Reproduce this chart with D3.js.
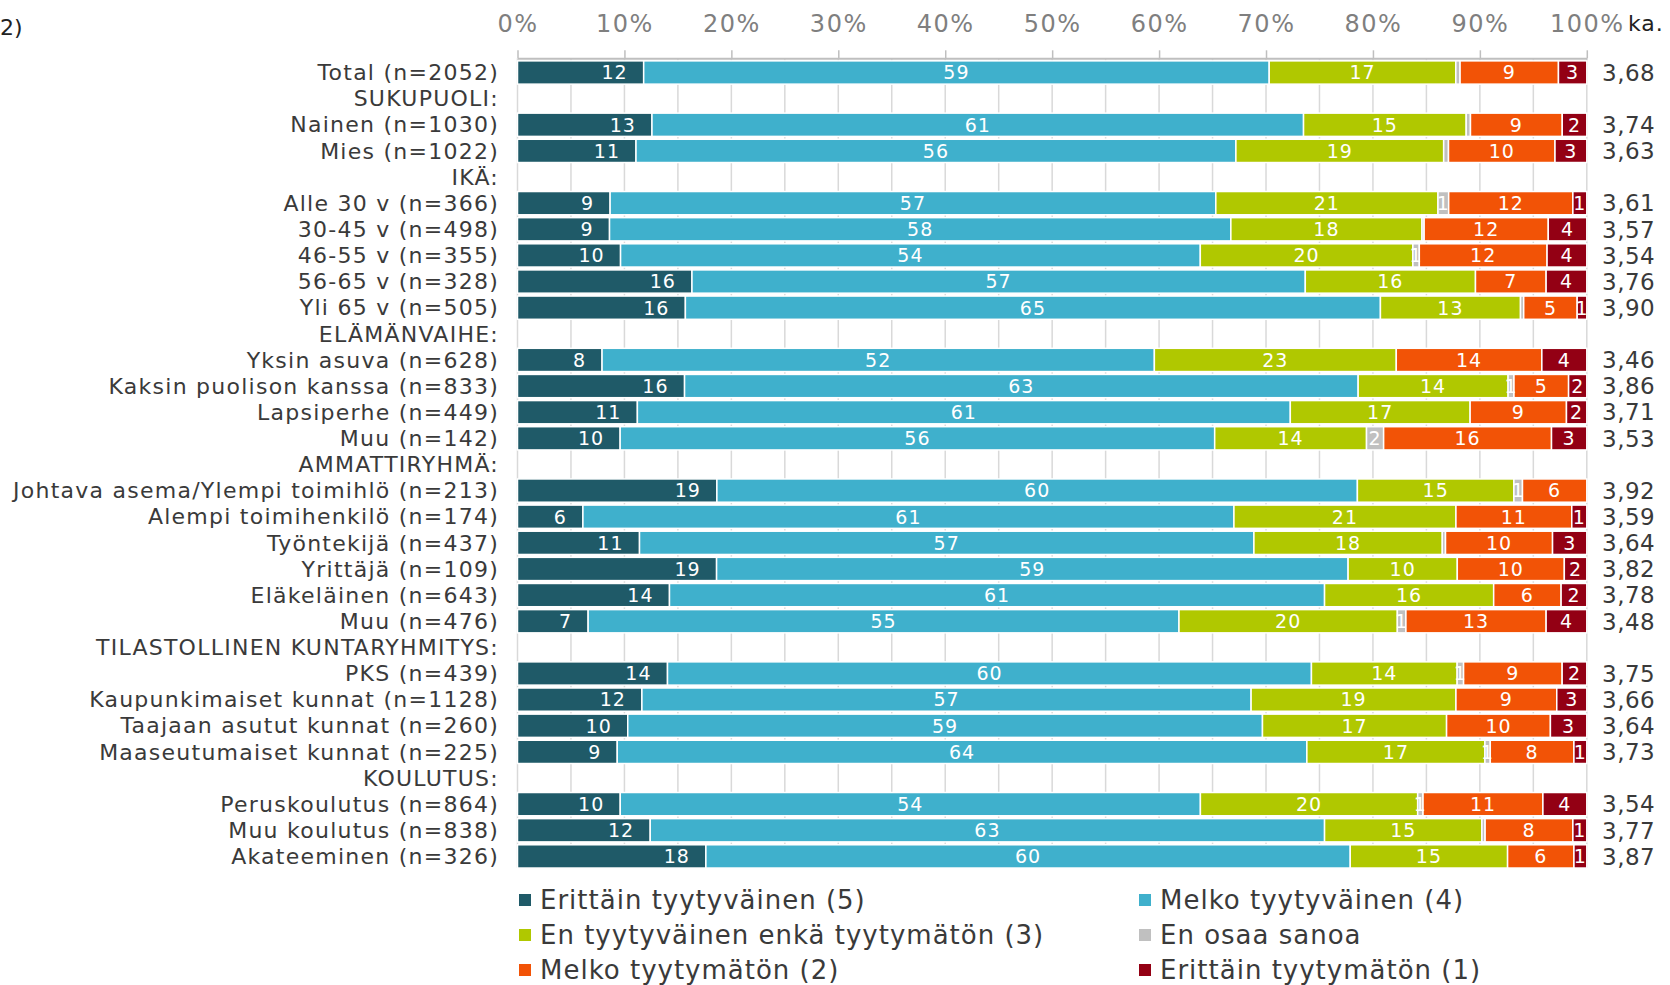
<!DOCTYPE html>
<html>
<head>
<meta charset="utf-8">
<script src="https://cdn.jsdelivr.net/npm/d3@7"></script>
<style>
    body { margin: 0; background: #fff; }
    svg text { font-family: 'DejaVu Sans', Verdana, sans-serif; }
</style>
</head>
<body>
<svg id="chart" width="1670" height="985"></svg>
<script>
const CATEGORIES = [
    "Total (n=2052)", "SUKUPUOLI:", "Nainen (n=1030)", "Mies (n=1022)",
    "IKÄ:", "Alle 30 v (n=366)", "30-45 v (n=498)", "46-55 v (n=355)", "56-65 v (n=328)", "Yli 65 v (n=505)",
    "ELÄMÄNVAIHE:", "Yksin asuva (n=628)", "Kaksin puolison kanssa (n=833)", "Lapsiperhe (n=449)", "Muu (n=142)",
    "AMMATTIRYHMÄ:", "Johtava asema/Ylempi toimihlö (n=213)", "Alempi toimihenkilö (n=174)", "Työntekijä (n=437)",
    "Yrittäjä (n=109)", "Eläkeläinen (n=643)", "Muu (n=476)",
    "TILASTOLLINEN KUNTARYHMITYS:", "PKS (n=439)", "Kaupunkimaiset kunnat (n=1128)", "Taajaan asutut kunnat (n=260)",
    "Maaseutumaiset kunnat (n=225)",
    "KOULUTUS:", "Peruskoulutus (n=864)", "Muu koulutus (n=838)", "Akateeminen (n=326)"
];

// null = group header row
const VERY_SATISFIED = [11.8, null, 12.6, 11.07, null, 8.65, 8.6, 9.6, 16.3, 15.7, null, 7.9, 15.6, 11.2, 9.6,
    null, 18.6, 6.1, 11.4, 18.6, 14.2, 6.6, null, 14.0, 11.6, 10.3, 9.3, null, 9.6, 12.4, 17.6];
const FAIRLY_SATISFIED = [58.5, null, 61.05, 56.04, null, 56.57, 58.06, 54.0, 57.3, 65.0, null, 51.6, 62.9, 61.0, 55.6,
    null, 59.75, 60.7, 57.4, 59.0, 61.2, 55.2, null, 60.1, 56.8, 59.3, 64.3, null, 54.2, 63.0, 60.2];
const NEUTRAL = [17.45, null, 15.24, 19.41, null, 20.75, 17.86, 19.8, 15.9, 13.1, null, 22.6, 14.0, 16.8, 14.2,
    null, 14.6, 20.7, 17.6, 10.2, 15.8, 20.4, null, 13.6, 19.1, 17.2, 16.6, null, 20.3, 14.7, 14.7];
const DONT_KNOW = [0.4, null, 0.4, 0.45, null, 1.0, 0.2, 0.6, 0, 0.3, null, 0, 0.55, 0, 1.6,
    null, 0.8, 0, 0.3, 0, 0, 0.8, null, 0.6, 0, 0, 0.5, null, 0.5, 0.3, 0];
const FAIRLY_DISSATISFIED = [9.2, null, 8.6, 9.95, null, 11.6, 11.6, 11.9, 6.6, 5.0, null, 13.6, 5.1, 9.0, 15.7,
    null, 6.0, 10.8, 10.0, 10.0, 6.3, 13.1, null, 9.2, 9.4, 9.7, 7.8, null, 11.2, 8.2, 6.2];
const VERY_DISSATISFIED = [2.65, null, 2.3, 2.97, null, 1.3, 3.6, 3.7, 3.8, 0.9, null, 4.2, 1.7, 1.9, 3.3,
    null, 0, 1.4, 3.2, 2.1, 2.4, 3.8, null, 2.3, 2.8, 3.4, 1.2, null, 4.1, 1.3, 1.2];
const MEANS = [3.68, null, 3.74, 3.63, null, 3.61, 3.57, 3.54, 3.76, 3.90, null, 3.46, 3.86, 3.71, 3.53,
    null, 3.92, 3.59, 3.64, 3.82, 3.78, 3.48, null, 3.75, 3.66, 3.64, 3.73, null, 3.54, 3.77, 3.87];

const SERIES_NAMES = [
    "Erittäin tyytyväinen (5)", "Melko tyytyväinen (4)", "En tyytyväinen enkä tyytymätön (3)",
    "En osaa sanoa", "Melko tyytymätön (2)", "Erittäin tyytymätön (1)"
];
const SERIES_COLORS = ["#1f5a68", "#3fb0cc", "#b0c800", "#c0c0c0", "#f25306", "#930014"];
const X_TICKS = [0, 10, 20, 30, 40, 50, 60, 70, 80, 90, 100];
const GRID_TICKS = d3.range(0, 101, 5);

const svg = d3.select('#chart');

const X_LEFT = 517.5;
const X_RIGHT = 1586.8;
const AXIS_Y = 58.3;
const LABEL_X = 499;
const MEAN_X = 1602;
const TEXT_COLOR = '#3a3a3a';

const SERIES = [VERY_SATISFIED, FAIRLY_SATISFIED, NEUTRAL, DONT_KNOW, FAIRLY_DISSATISFIED, VERY_DISSATISFIED];
const KEYS = SERIES.map((s, k) => 's' + k);

const rows = CATEGORIES.map((name, i) => {
    const row = {name: name, idx: i, header: VERY_SATISFIED[i] === null, mean: MEANS[i]};
    SERIES.forEach((s, k) => { row[KEYS[k]] = s[i] === null ? 0 : s[i]; });
    return row;
});
const dataRows = rows.filter(r => !r.header);

const x = d3.scaleLinear().domain([0, 1]).range([X_LEFT, X_RIGHT]);
const y = d3.scaleBand().domain(rows.map(r => r.idx)).range([58.0, 870.9]).padding(0.11);

const stacked = d3.stack().keys(KEYS).offset(d3.stackOffsetExpand)(dataRows);

drawGrid();
drawAxis();
drawBars();
drawCategoryLabels();
drawMeans();
drawLegend();

function drawGrid() {
    svg.append('g')
        .selectAll('line')
        .data(GRID_TICKS)
        .join('line')
        .attr('x1', d => x(d / 100))
        .attr('x2', d => x(d / 100))
        .attr('y1', AXIS_Y)
        .attr('y2', y(rows.length - 1) + y.bandwidth())
        .attr('stroke', '#d9d9d9')
        .attr('stroke-width', 1.5);
}

function drawAxis() {
    const axis = d3.axisTop(x)
        .tickValues(X_TICKS.map(d => d / 100))
        .tickFormat(d => Math.round(d * 100) + '%')
        .tickSize(8)
        .tickSizeOuter(0)
        .tickPadding(18);

    const g = svg.append('g')
        .attr('transform', 'translate(0,' + AXIS_Y + ')')
        .call(axis);

    g.select('.domain').attr('stroke', '#bfbfbf').attr('stroke-width', 2);
    g.selectAll('.tick line').attr('stroke', '#bfbfbf').attr('stroke-width', 1.5);
    g.selectAll('.tick text')
        .attr('fill', '#7f7f7f')
        .attr('font-size', 24)
        .attr('letter-spacing', '1.5px')
        .style('font-family', "'DejaVu Sans', Verdana, sans-serif");

    svg.append('text')
        .text('ka.')
        .attr('x', 1628)
        .attr('y', 31)
        .attr('font-size', 22)
        .attr('letter-spacing', '1px')
        .attr('fill', '#222');

    svg.append('text')
        .text('2)')
        .attr('x', 0)
        .attr('y', 35)
        .attr('font-size', 22)
        .attr('fill', '#222');
}

function drawBars() {
    const layers = svg.append('g')
        .selectAll('g')
        .data(stacked)
        .join('g')
        .attr('fill', (d, k) => SERIES_COLORS[k]);

    layers.selectAll('rect')
        .data(d => d)
        .join('rect')
        .attr('x', d => x(d[0]))
        .attr('y', d => y(d.data.idx))
        .attr('width', d => Math.max(0, x(d[1]) - x(d[0])))
        .attr('height', y.bandwidth())
        .attr('stroke', '#fff')
        .attr('stroke-width', 1.5);

    // value labels; first series sits at the inner end of its segment
    stacked.forEach((layer, k) => {
        const key = KEYS[k];
        svg.append('g')
            .selectAll('text')
            .data(layer.filter(d => d.data[key] >= 0.5))
            .join('text')
            .text(d => Math.round(d.data[key]))
            .attr('x', d => k === 0 ? x(d[1]) - 16 : (x(d[0]) + x(d[1])) / 2)
            .attr('y', d => y(d.data.idx) + y.bandwidth() / 2)
            .attr('dy', '0.36em')
            .attr('text-anchor', k === 0 ? 'end' : 'middle')
            .attr('font-size', 19)
            .attr('letter-spacing', '1px')
            .attr('fill', '#fff');
    });
}

function drawCategoryLabels() {
    svg.append('g')
        .selectAll('text')
        .data(rows)
        .join('text')
        .text(d => d.name)
        .attr('x', LABEL_X)
        .attr('y', d => y(d.idx) + y.bandwidth() / 2)
        .attr('dy', '0.35em')
        .attr('text-anchor', 'end')
        .attr('font-size', 22)
        .attr('letter-spacing', '1.25px')
        .attr('fill', TEXT_COLOR);
}

function drawMeans() {
    const fmt = d3.format('.2f');
    svg.append('g')
        .selectAll('text')
        .data(dataRows)
        .join('text')
        .text(d => fmt(d.mean).replace('.', ','))
        .attr('x', MEAN_X)
        .attr('y', d => y(d.idx) + y.bandwidth() / 2)
        .attr('dy', '0.36em')
        .attr('font-size', 23)
        .attr('letter-spacing', '0.5px')
        .attr('fill', TEXT_COLOR);
}

function drawLegend() {
    const COL_X = [519, 1139];
    const ROW_Y = [909, 944, 979];

    const items = svg.append('g')
        .selectAll('g')
        .data(SERIES_NAMES)
        .join('g')
        .attr('transform', (d, k) => 'translate(' + COL_X[k % 2] + ',' + ROW_Y[Math.floor(k / 2)] + ')');

    items.append('rect')
        .attr('x', 0)
        .attr('y', -15)
        .attr('width', 12)
        .attr('height', 12)
        .attr('fill', (d, k) => SERIES_COLORS[k]);

    items.append('text')
        .text(d => d)
        .attr('x', 21)
        .attr('y', 0)
        .attr('font-size', 26)
        .attr('letter-spacing', '1px')
        .attr('fill', TEXT_COLOR);
}
</script>
</body>
</html>
